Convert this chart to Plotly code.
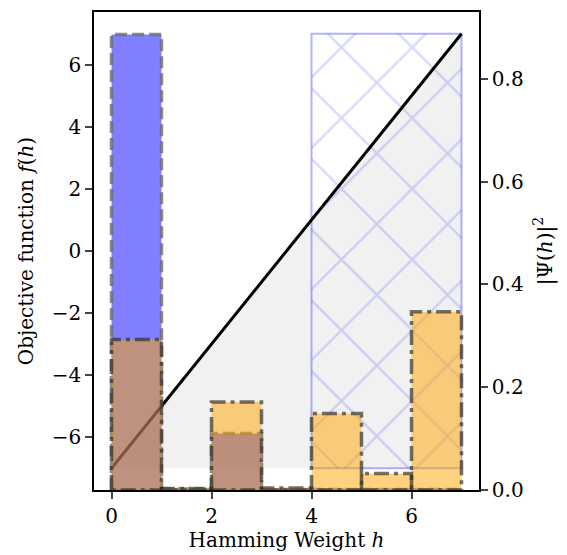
import plotly.graph_objects as go

# ---- data ----
h_bars = [0, 1, 2, 3, 4, 5, 6]
psi_initial = [0.886, 0.002, 0.110, 0.001, 0.001, 0.001, 0.001]   # blue bars
psi_final = [0.293, 0.003, 0.171, 0.004, 0.149, 0.032, 0.347]     # orange bars
line_h = [0, 7]
line_f = [-7, 7]
f_floor = -7
feasible_h = [4, 7]
feasible_f = [-7, 7]
x_ticks = [0, 2, 4, 6]
left_ticks = [-6, -4, -2, 0, 2, 4, 6]
right_ticks = [0.0, 0.2, 0.4, 0.6, 0.8]


def bar_outline(xs, vals, width=1.0):
    px, py = [], []
    for x0, v in zip(xs, vals):
        px += [x0, x0, x0 + width, x0 + width, x0, None]
        py += [0, v, v, 0, 0, None]
    return px, py


fig = go.Figure()

# grey fill under the line
fig.add_trace(go.Scatter(
    x=line_h + line_h[::-1], y=line_f + [f_floor, f_floor],
    fill="toself", fillcolor="rgba(128,128,128,0.11)",
    line=dict(width=0), mode="lines", hoverinfo="skip", showlegend=False))

# hatched feasible region
fig.add_trace(go.Scatter(
    x=[feasible_h[0], feasible_h[0], feasible_h[1], feasible_h[1], feasible_h[0]],
    y=[feasible_f[0], feasible_f[1], feasible_f[1], feasible_f[0], feasible_f[0]],
    fill="toself", fillcolor="rgba(0,0,0,0)",
    fillpattern=dict(shape="x", size=50, solidity=0.09,
                     fgcolor="rgba(0,0,255,0.3)", bgcolor="rgba(0,0,0,0)",
                     fillmode="overlay"),
    line=dict(color="rgba(0,0,255,0.3)", width=2), mode="lines",
    hoverinfo="skip", showlegend=False))

# objective line
fig.add_trace(go.Scatter(
    x=line_h, y=line_f, mode="lines",
    line=dict(color="black", width=3), showlegend=False))

# blue bars (right axis)
bx, by = bar_outline(h_bars, psi_initial)
fig.add_trace(go.Scatter(
    x=bx, y=by, yaxis="y2", fill="toself", fillcolor="rgba(0,0,255,0.5)",
    mode="lines", line=dict(color="rgba(110,110,110,0.8)", width=3.5, dash="12px,5px"),
    showlegend=False))

# orange bars (right axis)
ox, oy = bar_outline(h_bars, psi_final)
fig.add_trace(go.Scatter(
    x=ox, y=oy, yaxis="y2", fill="toself", fillcolor="rgba(255,165,0,0.5)",
    mode="lines", line=dict(color="rgba(40,40,40,0.65)", width=3.5,
                            dash="15px,5px,4px,5px"),
    showlegend=False))

font_family = "DejaVu Serif"
axis_common = dict(ticks="outside", ticklen=7, tickwidth=1.6, showgrid=False,
                   zeroline=False, showline=True, linecolor="black", linewidth=1.6)
fig.update_layout(
    width=559, height=547,
    margin=dict(l=86, r=88, t=2, b=65),
    plot_bgcolor="white", paper_bgcolor="white",
    font=dict(family=font_family, size=20, color="black"),
    xaxis=dict(range=[-0.35, 7.35], tickvals=x_ticks, mirror=True,
               title=dict(text="Hamming Weight <i>h</i>", standoff=4,
                          font=dict(size=20)), **axis_common),
    yaxis=dict(range=[-7.7, 7.7], tickvals=left_ticks,
               ticktext=[str(v).replace("-", "\u2212") for v in left_ticks],
               title=dict(text="Objective function <i>f</i>(<i>h</i>)",
                          standoff=13, font=dict(size=20)), **axis_common),
    yaxis2=dict(range=[0, 0.93], tickvals=right_ticks,
                ticktext=[f"{v:.1f}" for v in right_ticks],
                overlaying="y", side="right",
                title=dict(text="|\u03a8(<i>h</i>)|<sup>2</sup>", standoff=15,
                           font=dict(size=20)), **axis_common),
)

fig.write_html("out.html")
